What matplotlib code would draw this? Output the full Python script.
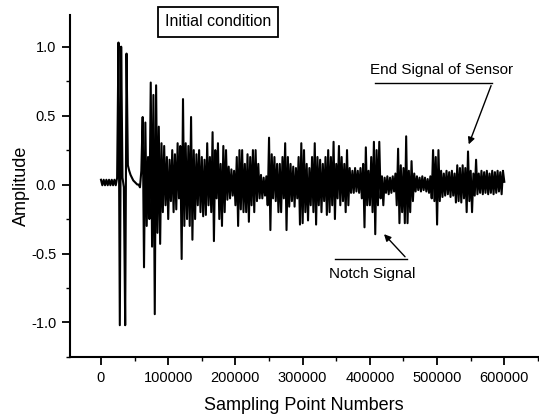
import numpy as np
import matplotlib
matplotlib.use("Agg")
import matplotlib.pyplot as plt
from matplotlib.ticker import MultipleLocator, FixedLocator

plt.rcParams['font.family'] = ['Liberation Sans', 'DejaVu Sans']

# sampling step between listed amplitude readings
step = 2000
amplitude = [
    # 0 - 58000
    0.035, -0.005, 0.035, -0.005, 0.035, -0.005, 0.035, -0.005, 0.035, -0.005,
    0.035, -0.005, 0.05, 1.03, -1.02, 1.00, 0.05, -0.02, -1.02, 0.95,
    0.14, 0.10, 0.07, 0.05, 0.03, 0.02, 0.01, 0.00, 0.00, -0.02,
    # 60000 - 
    0.10, 0.49, -0.60, 0.45, -0.30, 0.20, -0.25, 0.74, -0.45, 0.65,
    -0.94, 0.72, -0.35, 0.42, -0.43, 0.30, -0.20, 0.28, -0.15, 0.20,
    -0.25, 0.18, -0.12, 0.25, -0.20, 0.22, -0.18, 0.30, -0.10, 0.28,
    -0.54, 0.62, -0.30, 0.30, -0.25, 0.28, -0.30, 0.49, -0.40, 0.25,
    -0.25, 0.22, -0.15, 0.25, -0.20, 0.20, -0.23, 0.18, -0.22, 0.30,
    -0.15, 0.20, -0.20, 0.38, -0.41, 0.25, -0.10, 0.30, -0.25, 0.15,
    -0.30, 0.28, -0.20, 0.25, -0.11, 0.13, -0.10, 0.11, -0.08, 0.10,
    -0.15, 0.20, -0.30, 0.25, -0.18, 0.25, -0.20, 0.15, -0.20, 0.22,
    -0.27, 0.20, -0.15, 0.25, -0.20, 0.25, -0.12, 0.15, -0.10, 0.07,
    -0.10, 0.05, -0.08, 0.06, -0.15, 0.34, -0.33, 0.22, -0.10, 0.20,
    -0.12, 0.15, -0.20, 0.15, -0.20, 0.20, -0.10, 0.30, -0.33, 0.20,
    -0.16, 0.15, -0.12, 0.13, -0.16, 0.12, -0.10, 0.20, -0.29, 0.30,
    -0.28, 0.25, -0.20, 0.15, -0.26, 0.12, -0.15, 0.20, -0.20, 0.30,
    -0.29, 0.20, -0.15, 0.18, -0.20, 0.15, -0.12, 0.20, -0.22, 0.25,
    -0.20, 0.20, -0.15, 0.31, -0.25, 0.15, -0.10, 0.28, -0.15, 0.20,
    -0.12, 0.15, -0.20, 0.25, -0.15, 0.12, -0.06, 0.10, -0.06, 0.12,
    -0.05, 0.10, -0.06, 0.12, -0.10, 0.15, -0.31, 0.27, -0.15, 0.10,
    -0.15, 0.20, -0.20, 0.31, -0.36, 0.25, -0.15, 0.31, -0.10, 0.06,
    -0.15, 0.05, -0.06, 0.06, -0.07, 0.05, -0.06, 0.06, -0.05, 0.08,
    -0.15, 0.26, -0.28, 0.14, -0.20, 0.12, -0.28, 0.35, -0.28, 0.10,
    -0.20, 0.17, -0.12, 0.08, -0.05, 0.06, -0.04, 0.05, -0.05, 0.06,
    -0.04, 0.05, -0.05, 0.04, -0.06, 0.06, -0.10, 0.25, -0.12, 0.20,
    -0.29, 0.25, -0.12, 0.10, -0.09, 0.08, -0.08, 0.10, -0.07, 0.09,
    -0.09, 0.10, -0.08, 0.08, -0.13, 0.14, -0.12, 0.12, -0.13, 0.14,
    -0.10, 0.12, -0.20, 0.24, -0.12, 0.10, -0.20, 0.08, -0.08, 0.18,
    -0.07, 0.08, -0.06, 0.10, -0.07, 0.09, -0.06, 0.10, -0.07, 0.08,
    -0.06, 0.10, -0.07, 0.09, -0.06, 0.10, -0.05, 0.09, -0.07, 0.10,
    0.02,
]
sample_index = np.arange(len(amplitude)) * step

xticks = [0, 100000, 200000, 300000, 400000, 500000, 600000]
yticks = [-1.0, -0.5, 0.0, 0.5, 1.0]

fig = plt.figure(figsize=(5.39, 4.16), dpi=100)
ax = fig.add_axes([0.130, 0.142, 0.868, 0.822])
ax.plot(sample_index, amplitude, color='black', lw=1.5)

ax.set_xlim(-46000, 650000)
ax.set_ylim(-1.25, 1.23)
ax.xaxis.set_major_locator(FixedLocator(xticks))
ax.xaxis.set_minor_locator(MultipleLocator(50000))
ax.yaxis.set_major_locator(FixedLocator(yticks))
ax.yaxis.set_minor_locator(MultipleLocator(0.25))
ax.set_xticklabels([str(v) for v in xticks])
ax.set_yticklabels([f"{v:.1f}" for v in yticks])
for s in ['top', 'right']:
    ax.spines[s].set_visible(False)
for s in ['left', 'bottom']:
    ax.spines[s].set_linewidth(1.5)
ax.tick_params(which='major', direction='out', length=6, width=1.3, labelsize=10.5, pad=4)
ax.tick_params(which='minor', direction='out', length=3, width=1.0)

ax.set_xlabel('Sampling Point Numbers', fontsize=13, labelpad=9)
ax.set_ylabel('Amplitude', fontsize=13, labelpad=1)

ax.text(0.316, 0.980, 'Initial condition', transform=ax.transAxes, fontsize=11.5,
        ha='center', va='center',
        bbox=dict(boxstyle='square,pad=0.45', fc='white', ec='black', lw=1.3))

# annotations
ax.text(0.793, 0.839, 'End Signal of Sensor', transform=ax.transAxes,
        fontsize=11, ha='center', va='center')
ax.plot([0.652, 0.902], [0.801, 0.801], transform=ax.transAxes, color='black', lw=1)
ax.annotate('', xy=(0.850, 0.614), xycoords='axes fraction',
            xytext=(0.902, 0.801), textcoords='axes fraction',
            arrowprops=dict(arrowstyle='-|>', color='black', lw=1, mutation_scale=10))

ax.text(0.645, 0.243, 'Notch Signal', transform=ax.transAxes,
        fontsize=11, ha='center', va='center')
ax.plot([0.566, 0.720], [0.287, 0.287], transform=ax.transAxes, color='black', lw=1)
ax.annotate('', xy=(0.667, 0.365), xycoords='axes fraction',
            xytext=(0.720, 0.287), textcoords='axes fraction',
            arrowprops=dict(arrowstyle='-|>', color='black', lw=1, mutation_scale=10))

fig.savefig('out.png', dpi=100)
